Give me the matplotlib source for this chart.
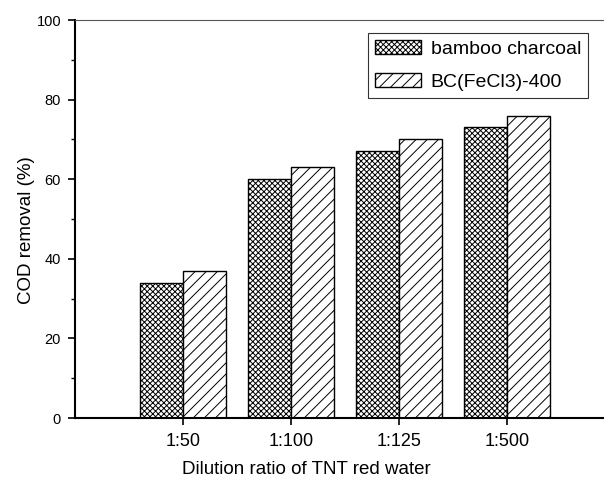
import matplotlib.pyplot as plt
import numpy as np

plt.rcParams["font.family"] = ["Liberation Sans", "DejaVu Sans"]
plt.rcParams["hatch.linewidth"] = 0.7

categories = ["1:50", "1:100", "1:125", "1:500"]
bamboo = [34, 60, 67, 73]
bc_fecl3 = [37, 63, 70, 76]

fig = plt.figure(figsize=(6.04, 4.84), dpi=100)
ax = fig.add_axes([75 / 604, 66 / 484, 540 / 604, 398 / 484])

x = np.arange(1, len(categories) + 1)
w = 0.4
ax.bar(x - w / 2, bamboo, w, facecolor="white", edgecolor="black",
       hatch="xxxxxx", linewidth=1.0, label="bamboo charcoal")
ax.bar(x + w / 2, bc_fecl3, w, facecolor="white", edgecolor="black",
       hatch="///", linewidth=1.0, label="BC(FeCl3)-400")

ax.set_xlim(0, 5)
ax.set_ylim(0, 100)
ax.set_xticks(x)
ax.set_xticklabels(categories)
ax.set_yticks(range(0, 101, 20))
ax.set_yticks(range(10, 100, 20), minor=True)
ax.tick_params(axis="both", which="major", direction="out", length=5, width=1.2)
ax.tick_params(axis="x", labelsize=13, pad=6)
ax.tick_params(axis="y", labelsize=10.5, pad=5)
ax.tick_params(axis="y", which="minor", direction="out", length=3, width=1.0)

for side in ["left", "bottom"]:
    ax.spines[side].set_linewidth(1.5)
ax.spines["top"].set_linewidth(0.8)
ax.spines["top"].set_color("#555555")
ax.spines["right"].set_visible(False)

fig.text(27 / 604, 1 - 230 / 484, "COD removal (%)", fontsize=13.5,
         rotation=90, ha="center", va="center")
fig.text(306 / 604, 1 - 470 / 484, "Dilution ratio of TNT red water",
         fontsize=13.5, ha="center", va="center")

leg = ax.legend(loc="upper left", bbox_to_anchor=(368 / 604, 1 - 33 / 484),
                bbox_transform=fig.transFigure,
                fontsize=14, frameon=True, fancybox=False, edgecolor="black",
                handlelength=2.37, handleheight=0.72, borderpad=0.35,
                labelspacing=0.8, handletextpad=0.5, borderaxespad=0)
leg.get_frame().set_linewidth(0.8)

fig.savefig("out.png", dpi=100)
